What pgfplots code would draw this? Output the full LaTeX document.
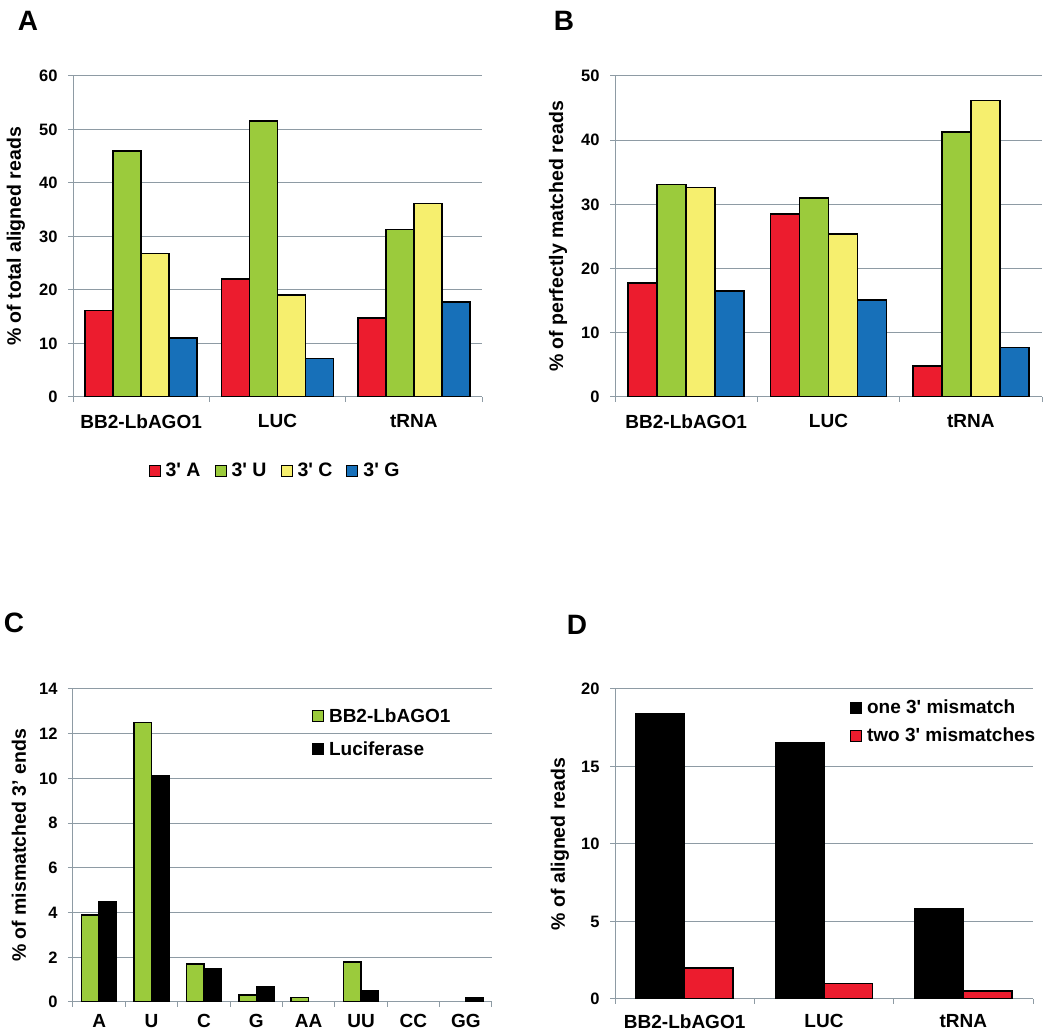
\documentclass[border=0pt]{standalone}
\usepackage{fontspec}
\setmainfont{Liberation Sans}
\usepackage{pgfplots}
\pgfplotsset{compat=1.18}
\definecolor{cRed}{HTML}{EC1C2E}
\definecolor{cGreen}{HTML}{9BCB3C}
\definecolor{cYellow}{HTML}{F6EF6E}
\definecolor{cBlue}{HTML}{1770B9}
\definecolor{cGrid}{HTML}{8E9BA4}
\newcommand{\ap}{\textquotesingle}
\pgfplotsset{
  sq/.style={legend image code/.code={\draw[##1,line width=1pt] (0pt,-5.5pt) rectangle (11pt,5.5pt);}},
  bb/.style={draw=black,line width=1.6pt,sq},
  panel/.style={
    scale only axis,
    anchor=south west,
    axis lines*=left,
    axis line style={cGrid,line width=1pt},
    ymajorgrids,
    grid style={cGrid,line width=1pt},
    ymin=0,
    tick align=outside,
    major tick length=5pt,
    minor tick length=5pt,
    tick style={cGrid,line width=1pt},
    major x tick style={draw=none},
    /pgf/number format/assume math mode=true,
    yticklabel style={font=\fontsize{16.5}{16.5}\selectfont\bfseries,xshift=-7pt},
    xticklabel style={font=\fontsize{19}{19}\selectfont\bfseries,yshift=-9pt},
    ylabel style={font=\fontsize{19.5}{19.5}\selectfont\bfseries,anchor=center},
    legend style={draw=none,fill=none,inner sep=0pt,font=\fontsize{19.5}{19.5}\selectfont\bfseries,
      /tikz/every odd column/.append style={column sep=3pt}},
    legend cell align=left,
  }
}
\begin{document}
\begin{tikzpicture}
\path[use as bounding box] (0,0) rectangle (1050pt,1033pt);
% Panel A
\begin{axis}[panel, at={(73pt,636pt)}, width=409pt, height=321pt,
  ybar=0pt, bar width=28pt,
  xmin=-0.5, xmax=2.5, ymax=60, ytick={0,10,...,60},
  xtick={0,1,2}, xticklabels={BB2-LbAGO1,LUC,tRNA},
  minor xtick={-0.5,0.5,1.5,2.5},
  ylabel={\% of total aligned reads},
  ylabel style={at={(axis description cs:-0.1394,0.5)}},
  legend columns=4,
  legend style={at={(0.494,-0.230)},anchor=center,/tikz/every even column/.append style={column sep=12pt}}]
\addplot[fill=cRed,bb] coordinates {(0,16.2) (1,22.1) (2,14.8)};
\addplot[fill=cGreen,bb] coordinates {(0,46.0) (1,51.6) (2,31.3)};
\addplot[fill=cYellow,bb] coordinates {(0,26.8) (1,19.1) (2,36.2)};
\addplot[fill=cBlue,bb] coordinates {(0,11.0) (1,7.2) (2,17.7)};
\legend{3\ap\ A,3\ap\ U,3\ap\ C,3\ap\ G}
\end{axis}
% Panel B
\begin{axis}[panel, at={(615pt,636pt)}, width=427pt, height=321pt,
  ybar=0pt, bar width=29pt,
  xmin=-0.5, xmax=2.5, ymax=50, ytick={0,10,...,50},
  xtick={0,1,2}, xticklabels={BB2-LbAGO1,LUC,tRNA},
  minor xtick={-0.5,0.5,1.5,2.5},
  ylabel={\% of perfectly matched reads},
  ylabel style={at={(axis description cs:-0.1335,0.5)}}]
\addplot[fill=cRed,bb] coordinates {(0,17.8) (1,28.5) (2,4.8)};
\addplot[fill=cGreen,bb] coordinates {(0,33.1) (1,31.0) (2,41.3)};
\addplot[fill=cYellow,bb] coordinates {(0,32.6) (1,25.4) (2,46.2)};
\addplot[fill=cBlue,bb] coordinates {(0,16.5) (1,15.1) (2,7.7)};
\end{axis}
% Panel C
\begin{axis}[panel, at={(73pt,31pt)}, width=419pt, height=313pt,
  ybar=0pt, bar width=17.5pt,
  xmin=-0.5, xmax=7.5, ymax=14, ytick={0,2,...,14},
  xtick={0,...,7}, xticklabels={A,U,C,G,AA,UU,CC,GG},
  minor xtick={-0.5,0.5,...,7.5},
  xticklabel style={yshift=5pt},
  ylabel={\% of mismatched 3’ ends},
  ylabel style={at={(axis description cs:-0.1289,0.5)}},
  y filter/.expression={y==0 ? nan : y},
  legend style={at={(0.570,0.945)},anchor=north west,row sep=14pt,font=\fontsize{19}{19}\selectfont\bfseries}]
\addplot[fill=cGreen,bb] coordinates {(0,3.9) (1,12.5) (2,1.7) (3,0.3) (4,0.2) (5,1.8) (6,0) (7,0)};
\addplot[fill=black,bb] coordinates {(0,4.5) (1,10.1) (2,1.5) (3,0.7) (4,0) (5,0.5) (6,0) (7,0.2)};
\legend{BB2-LbAGO1,Luciferase}
\end{axis}
% Panel D
\begin{axis}[panel, at={(615pt,34pt)}, width=418pt, height=310pt,
  ybar=0pt, bar width=48.5pt,
  xmin=-0.5, xmax=2.5, ymax=20, ytick={0,5,...,20},
  xtick={0,1,2}, xticklabels={BB2-LbAGO1,LUC,tRNA},
  minor xtick={-0.5,0.5,1.5,2.5},
  xticklabel style={yshift=2pt},
  ylabel={\% of aligned reads},
  ylabel style={at={(axis description cs:-0.1316,0.5)}},
  legend style={at={(0.562,0.972)},anchor=north west,row sep=9pt,font=\fontsize{19}{19}\selectfont\bfseries}]
\addplot[fill=black,bb] coordinates {(0,18.4) (1,16.5) (2,5.8)};
\addplot[fill=cRed,bb] coordinates {(0,2.0) (1,1.0) (2,0.5)};
\legend{one 3\ap\ mismatch,two 3\ap\ mismatches}
\end{axis}
\node[font=\fontsize{28}{28}\selectfont\bfseries] at (28pt,1012pt) {A};
\node[font=\fontsize{28}{28}\selectfont\bfseries] at (564pt,1012pt) {B};
\node[font=\fontsize{28}{28}\selectfont\bfseries] at (14pt,410pt) {C};
\node[font=\fontsize{28}{28}\selectfont\bfseries] at (577pt,408pt) {D};
\end{tikzpicture}
\end{document}
